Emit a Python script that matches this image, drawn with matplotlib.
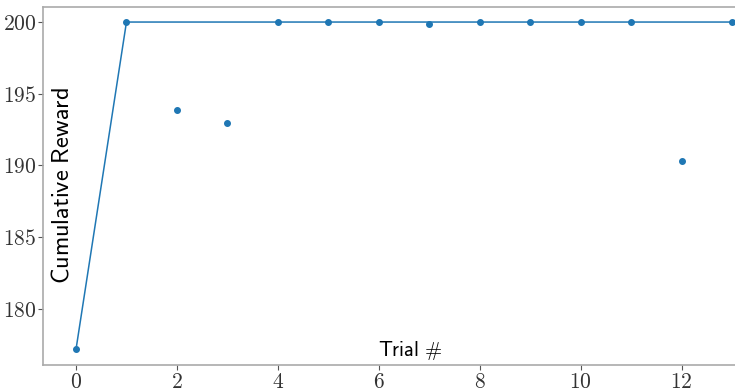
import matplotlib
matplotlib.use('Agg')
from matplotlib import pyplot as plt
import numpy as np

trials = list(range(14))
rewards = [177.15, 200.0, 193.85, 192.95, 200.0, 200.0, 200.0, 199.88,
           200.0, 200.0, 200.0, 200.0, 190.28, 200.0]
best_so_far = list(np.maximum.accumulate(rewards))

plt.rcParams.update({'mathtext.fontset': 'cm'})
W, H = 735, 391
fig = plt.figure(figsize=(W/100, H/100), dpi=100)
ax = fig.add_axes([43/W, 1 - 365/H, (W - 43)/W, (365 - 7)/H])

ax.plot(trials, best_so_far, '-', color='#1f77b4', lw=1.1)
ax.plot(trials, rewards, 'o', color='#1f77b4', ms=4, lw=0, clip_on=False)

ax.set_xlim(-0.654, 13.06)
ax.set_ylim(176.06, 201.05)
ax.set_xticks(range(0, 13, 2))
ax.set_yticks([180, 185, 190, 195, 200])
ax.set_xticklabels([r'$%d$' % t for t in range(0, 13, 2)])
ax.set_yticklabels([r'$%d$' % v for v in [180, 185, 190, 195, 200]])
ax.tick_params(labelsize=15.5, color='#555555', labelcolor='#333333',
               length=3.5, pad=1.5)

for side in ['left', 'top', 'bottom']:
    ax.spines[side].set_color('#aaaaaa')
    ax.spines[side].set_linewidth(1.2)
ax.spines['right'].set_visible(False)

ax.text(62/W, 1 - 186/H, r'$\mathsf{Cumulative\ Reward}$', transform=fig.transFigure,
        rotation=90, ha='center', va='center', fontsize=17.5)
ax.text(410/W, 1 - 350/H, r'$\mathsf{Trial\ \#}$', transform=fig.transFigure,
        ha='center', va='center', fontsize=14.8)

fig.savefig('out.png', dpi=100)
